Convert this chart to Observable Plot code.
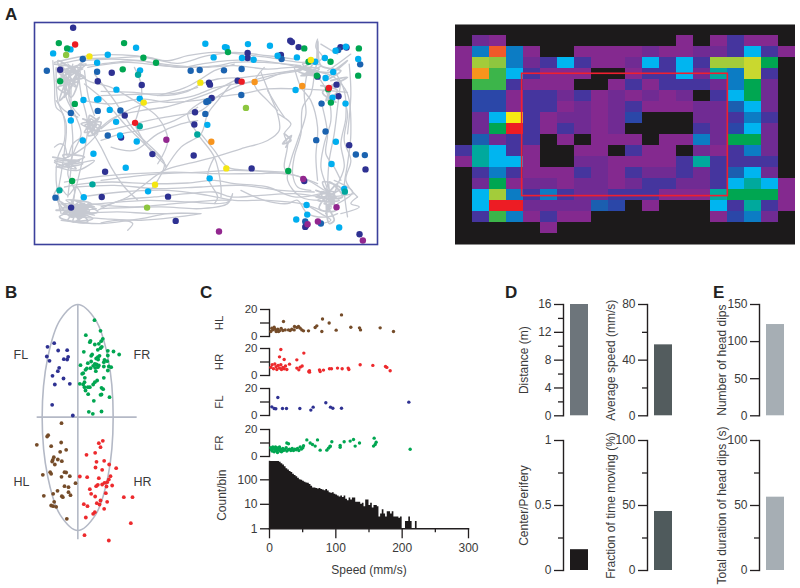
<!DOCTYPE html>
<html><head><meta charset="utf-8">
<script src="https://cdn.jsdelivr.net/npm/d3@7"></script>
<script src="https://cdn.jsdelivr.net/npm/@observablehq/plot@0.6"></script>
<style>
html,body{margin:0;padding:0;background:#fff}
#page{position:relative;width:800px;height:588px;overflow:hidden;font-family:"Liberation Sans",Arial,sans-serif}
#page>div{position:absolute}
.letter{font-weight:bold;font-size:17px;color:#222;line-height:17px}
svg{overflow:visible}
</style></head><body><div id="page"></div>
<script>
// ---------- Panel A: track map, in arena units ----------
const navyDots=[[216,81],[868,120],[873,124],[893,139],[1019,139],[1037,140],[177,207],[332,216],[290,242],[422,253],[624,246],[627,252],[710,240],[840,163],[1007,252],[1013,287],[632,292],[371,345],[582,335],[580,372],[360,411],[454,461],[578,465],[312,514],[302,590],[501,589],[210,622],[524,662],[752,504],[910,542],[1045,434],[1094,507],[913,680],[916,675],[1076,702],[950,228],[740,157],[740,172]];
const blueDots=[[137,210],[245,175],[288,213],[569,210],[596,208],[669,209],[722,205],[721,283],[616,304],[622,301],[290,331],[358,330],[209,337],[320,405],[946,419],[974,393],[962,309],[1065,462],[1092,464],[842,175],[1078,191],[1012,148],[613,340],[163,592],[913,664],[960,670]];
const cyanDots=[[156,158],[208,146],[405,141],[320,162],[288,186],[613,129],[672,139],[677,141],[741,130],[807,135],[638,170],[723,172],[758,177],[830,165],[888,170],[943,183],[972,172],[1004,150],[1035,138],[1072,175],[997,214],[974,232],[884,268],[346,267],[417,209],[416,294],[247,298],[288,297],[292,296],[326,328],[209,360],[345,364],[619,373],[357,405],[245,420],[407,423],[277,460],[374,502],[626,534],[248,591],[441,573],[917,614],[919,643],[886,658],[1015,682],[1034,309],[995,291],[1005,424],[992,491],[1030,566]];
const tealDots=[[411,222],[416,377],[589,402],[274,552],[175,570],[1032,574]];
const greenDots=[[173,127],[198,143],[369,127],[681,154],[910,143],[1074,143],[427,171],[465,186],[365,206],[177,242],[221,310],[923,183],[989,183],[1072,225],[948,225],[982,266],[990,306],[862,512],[213,542]];
const limeDots=[[195,163],[735,322],[438,622]];
const yellowDots=[[265,167],[598,246],[428,306],[676,504],[462,553],[930,178]];
const orangeDots=[[761,244],[904,256],[631,424]];
const redDots=[[222,131],[722,243],[984,262],[402,367]];
const purpleDots=[[496,418],[907,536],[1007,621],[951,664],[920,672],[654,694],[1086,721]];
const dotColors=[[navyDots,"#2e3192"],[blueDots,"#1b63b0"],[cyanDots,"#00aeef"],[tealDots,"#00a79d"],[greenDots,"#00a651"],[limeDots,"#8dc63f"],[yellowDots,"#f4e613"],[orangeDots,"#f7941d"],[redDots,"#ed1c24"],[purpleDots,"#92278f"]];

const smoothTracks=[
[[175,190],[250,175],[340,172],[430,168],[500,180],[560,165],[640,155],[720,160],[800,170],[900,185],[950,180]],
[[240,180],[330,175],[420,180],[470,190],[540,200],[600,190],[680,180],[760,178],[850,190],[920,205]],
[[260,200],[380,185],[480,195],[570,200],[650,195],[700,185],[790,185],[900,195]],
[[920,205],[850,215],[780,240],[700,250],[640,262],[580,285],[500,300],[430,310],[360,340],[300,385]],
[[900,210],[810,225],[740,245],[660,280],[600,330],[520,345],[440,360],[340,385],[280,395]],
[[300,272],[400,275],[480,285],[560,272],[600,250],[650,235],[730,230],[840,215],[910,205]],
[[250,300],[330,310],[420,295],[500,305],[580,300],[640,290],[720,280],[800,265],[900,265],[1040,275]],
[[960,215],[1000,230],[1040,280],[1050,400],[1040,490],[1030,560],[1040,650]],
[[920,210],[910,280],[915,340],[890,420],[870,480],[860,540],[900,590],[960,600]],
[[830,340],[840,345],[870,370],[850,400],[860,430],[850,500],[860,520]],
[[780,215],[810,290],[830,340],[835,390],[800,420],[720,445],[640,470],[560,490],[490,510],[420,560],[380,590],[300,620]],
[[920,210],[960,240],[985,300],[990,360],[970,430],[960,500],[980,570],[985,620]],
[[1020,240],[1010,320],[1000,400],[985,480],[980,560]],
[[1030,300],[1040,340],[1030,420],[1050,480],[1035,540],[1070,590]],
[[960,580],[880,590],[800,560],[700,550],[640,540],[560,548],[450,550],[330,545],[250,550],[190,560]],
[[970,570],[900,530],[800,515],[700,510],[600,515],[490,520],[380,530],[300,540]],
[[1060,580],[980,590],[880,580],[780,585],[690,590],[640,575],[560,580],[460,590],[360,600],[290,630]],
[[230,640],[350,635],[450,640],[600,640],[530,650],[420,660],[300,655],[220,650]],
[[190,620],[300,610],[440,600],[560,605],[680,605],[695,580],[680,610],[600,625],[480,620],[300,625]],
[[720,570],[790,600],[860,610],[890,600],[920,640],[980,650],[1010,640]],
[[250,250],[310,300],[370,370],[430,430],[490,490],[470,540],[440,580]],
[[400,370],[440,440],[495,495]],
[[610,300],[560,340],[590,400],[640,470],[660,560],[660,590]],
[[690,250],[650,300],[620,340],[600,400],[540,440],[490,510]],
[[600,400],[640,450],[680,500],[760,510],[850,515]],
[[400,200],[420,250],[420,300],[400,370]],
[[165,200],[170,300],[195,370],[190,450],[180,520],[170,590],[180,640]],
[[230,200],[240,280],[260,370],[250,450],[230,540],[210,620]],
[[210,250],[210,340],[215,420],[210,500],[200,590]],
[[270,390],[300,440],[330,500],[370,560],[410,600]],
[[290,400],[250,440],[200,470],[160,480],[220,490],[280,480],[230,510],[170,500]],
[[230,350],[190,330],[165,300]],
[[380,690],[395,670],[360,660],[300,668]],
[[155,180],[160,250],[165,320],[185,340],[190,420],[170,470],[165,540],[175,600]],
[[185,200],[195,290],[225,350],[240,400],[220,450],[200,520],[220,570],[215,610]],
[[250,210],[262,290],[280,345]],
[[215,190],[205,300],[235,345]],
[[160,440],[175,430],[190,435],[200,470],[215,430],[245,410]],
[[155,590],[175,560],[200,585],[225,560],[245,595]],
[[200,190],[260,240],[330,260],[400,300],[470,350],[500,420],[470,490]],
[[280,220],[340,300],[400,390],[480,470],[495,500]],
[[290,390],[340,350],[420,330],[490,320],[560,300],[630,275],[700,240]],
[[300,420],[360,400],[440,385],[520,360],[590,320]],
[[330,440],[400,450],[470,400],[540,370],[590,360]],
[[160,185],[260,165],[400,165],[470,178],[530,188],[620,165],[700,155],[800,165],[880,175]],
[[240,195],[300,190],[400,180],[500,192],[600,200],[700,195],[800,205],[880,200],[940,210]],
[[470,285],[550,262],[600,235],[640,210],[700,190]],
[[300,285],[380,282],[440,280],[520,278],[590,260]],
[[800,270],[830,320],[850,350]],
[[790,200],[760,250],[800,300],[830,330]],
[[190,545],[280,530],[400,520],[520,515],[640,520],[760,520],[860,520],[950,550]],
[[220,560],[340,555],[470,565],[600,560],[720,555],[840,570],[940,575]],
[[240,590],[360,575],[500,570],[620,585],[700,600],[800,600],[900,610],[960,630]],
[[260,610],[400,620],[520,610],[640,600],[690,600]],
[[180,660],[300,670],[420,655],[500,640],[600,640]],
[[640,470],[620,530],[650,590],[640,610]],
[[880,200],[900,260],[930,300],[950,380],[945,470],[950,540]],
[[940,220],[930,280],[905,320],[900,400],[880,470],[875,520],[890,560],[930,570]],
[[1000,210],[1030,270],[1035,350],[1020,430],[1030,500],[1005,560]],
[[1045,190],[1050,280],[1040,400]],
[[960,300],[980,400],[975,460],[1000,500],[1020,540]],
[[1010,160],[960,130]],
[[950,115],[945,140],[965,170],[940,190]],
[[1050,160],[1010,190],[980,210]],
[[1070,590],[1050,610],[1075,620],[1020,640]],
[[910,610],[960,640],[990,660],[960,670]],
[[1000,540],[1055,575],[1010,610]]
];
const blobTopLeft=[[160,190],[245,205],[170,215],[255,190],[190,240],[240,225],[165,205],[225,260],[180,195],[210,290],[235,210],[165,240],[250,230],[195,210],[205,280],[170,260],[232,240],[215,200],[190,290],[240,195],[205,245],[170,180],[225,225],[175,300],[210,215],[250,180]];
const blobLeft=[[245,355],[300,380],[250,395],[295,350],[260,405],[290,395],[240,370],[285,360],[265,345],[275,400],[300,365],[250,375],[280,385],[255,360],[295,390],[265,385],[270,355],[285,375],[255,385],[275,365]];
const blobBottomLeft=[[165,630],[285,625],[180,610],[280,645],[195,600],[270,610],[175,650],[260,665],[210,600],[290,635],[185,640],[250,610],[200,660],[275,655],[190,620],[265,630],[215,665],[240,600],[205,640],[255,650],[175,625],[280,620],[225,615],[235,660],[215,625],[260,640],[200,630],[245,625],[230,645],[220,635],[170,600],[210,650],[240,635],[265,620],[225,650],[250,640]];
const blobBottomRight=[[945,570],[1015,600],[950,600],[1020,565],[965,545],[1005,630],[955,625],[1010,550],[975,640],[1000,575],[945,590],[1025,590],[985,545],[990,625],[960,575],[1005,590],[970,610],[1000,610],[975,565],[990,600],[965,590],[1000,660],[985,670],[980,585],[1000,600],[985,615]];
const blobTopRight=[[885,195],[950,215],[900,225],[960,195],[905,190],[945,225],[890,210],[935,190],[915,220],[955,205],[925,200],[895,200],[940,210],[950,120],[960,195],[1020,210],[970,240],[1040,180],[985,215],[915,205],[930,215]];
const blobRightMid=[[960,255],[1010,270],[975,300],[1000,250],[985,285],[1005,305],[965,275],[1040,230],[990,240]];
const blobLeftMid=[[155,470],[245,490],[165,500],[250,470],[185,465],[225,505],[160,485],[235,480],[195,495]];
const blobMid=[[850,400],[870,420],[845,430],[872,405],[855,440]];
const scribbles=[blobTopLeft,blobLeft,blobBottomLeft,blobBottomRight,blobTopRight,blobRightMid,blobLeftMid,blobMid];

// ---------- Panel A: occupancy map ----------
const heatRows=[
"kkkkkkkkkkkkkkkkkkkk",
"kPpkkkkkkkkkkpkpnppk",
"pbObpkkppppPppPPncnp",
"plLbPncnppPcncnllYgk",
"poGcnpppkkpnncPtbYnk",
"kGGnpppkkpnpnnnPbgPk",
"kNNpnnPnpPpPpPkncgPk",
"kNNpnnpPpPnpppPPBcPk",
"kPcynpPPpPNkkkPPnbnk",
"kPgrnpnPpPkkkknPNcPk",
"kBPnnkpkpppkppbPggPk",
"ntcnpkkppknppkPpnbPk",
"ptccpkkPPppppntnnnnk",
"knbnpppnPpnPPnPnBcPk",
"kPgpPPpPPpPnnPPnctcp",
"kclbnbnPPnnnppptgggp",
"kcrrPPPPBNkpkkkcntnp",
"knGbpnppkkkkkkkpNbPk",
"kkkkkpkkkkkkkkkkkkkk",
"kkkkkkkkkkkkkkkkkkkk"];
const heatColors={k:"#1c1a1b",p:"#84298f",P:"#702b93",n:"#45359e",N:"#2b47a8",B:"#1b5fb0",b:"#0c7cc4",c:"#00b5f0",t:"#00a99d",g:"#00a651",G:"#3cb54a",L:"#8dc63f",l:"#a3cc3a",y:"#f6ea13",Y:"#c9d82f",o:"#f7941d",O:"#f15a29",r:"#ed1c24"};
const centerZone={x1:3.92,x2:16.02,y1:4.48,y2:15.6};
const heatEdges=[0,20];

// ---------- Panel B: paw positions ----------
const bodyOutline=[[232,72],[285,118],[322,230],[338,410],[322,590],[285,703],[232,750],[179,703],[142,590],[125,410],[142,230],[179,118]];
const flPaw=[[161,188],[141,199],[173,210],[200,209],[139,228],[147,241],[190,236],[203,229],[200,237],[176,262],[172,272],[156,286],[189,294],[163,312],[208,310],[155,373],[217,405]];
const frPaw=[[282,119],[300,151],[256,164],[270,181],[268,185],[307,175],[302,182],[295,190],[283,192],[304,199],[300,203],[292,208],[250,214],[275,222],[272,226],[322,211],[339,213],[356,222],[297,226],[292,230],[287,234],[312,238],[320,242],[310,245],[322,225],[240,254],[262,248],[272,243],[283,250],[288,252],[278,256],[292,260],[284,262],[270,263],[259,264],[255,268],[248,278],[245,280],[310,258],[325,258],[332,260],[322,270],[286,272],[253,292],[252,305],[238,310],[248,312],[290,300],[283,305],[278,312],[310,292],[262,320],[255,330],[303,322],[308,326],[263,341],[280,361],[300,343],[303,342],[327,350],[265,394],[277,400],[303,393],[252,320],[268,320],[293,237],[295,255]];
const hlPaw=[[183,428],[143,464],[140,468],[109,493],[152,497],[182,486],[197,508],[179,514],[160,530],[157,538],[172,537],[184,542],[155,543],[163,552],[149,575],[152,580],[127,583],[192,575],[197,576],[183,589],[208,587],[225,608],[192,617],[204,620],[171,631],[204,635],[130,646],[158,640],[184,647],[187,650],[210,644],[161,664],[152,675],[158,677],[167,679],[199,715]];
const hrPaw=[[307,481],[295,488],[300,500],[258,523],[284,517],[288,544],[311,541],[326,552],[285,561],[305,568],[347,563],[330,587],[325,597],[238,588],[260,590],[295,593],[320,605],[312,607],[305,612],[292,613],[287,617],[335,615],[318,618],[268,626],[316,638],[272,640],[284,648],[370,650],[396,650],[300,660],[320,664],[289,668],[297,672],[250,671],[261,677],[311,685],[283,695],[278,700],[256,711],[391,728],[252,764],[325,780]];
const pawLabels=[["FL",61,222],["FR",424,222],["HL",63,605],["HR",426,605]];

// ---------- Panel C: [speed, value] ----------
const hlSpeed=[[21,11.1],[2,3.7],[5,5],[7,6.9],[10,3.7],[12.5,5.4],[15,4.2],[17.5,6],[20,4.4],[23.5,4.9],[28.5,4.9],[33.5,5.4],[37,4.9],[37.5,7.4],[43.5,7.4],[46,6.2],[48.5,4.9],[51,4.2],[58.5,4.2],[68.5,6.7],[71,7.9],[78.5,3.7],[79.5,13],[89.5,10],[100,4.7],[108,16],[122,6.9],[135,6.4],[136.5,4.9],[166,6.4],[186,3.7],[3.5,6.2],[8.5,5.4],[13.5,3.7],[31,4.4],[41,6.7]];
const hrSpeed=[[17,19.3],[15,13.8],[22,11.9],[41,11.6],[51.5,16.6],[30,8.4],[2,6],[4,8],[6,5],[8,8.5],[10,6.5],[11,4.5],[13,7.5],[15,5.5],[17,8],[18,4.5],[20,6],[22,5],[24,7],[26,4.5],[41,5.5],[44,4.2],[46,6.2],[49,7],[59,3],[60,2.5],[60,3.5],[75,4.2],[76,3],[81,4],[90,5],[93,5],[102,5.5],[109,5],[118,5.5],[119,4.5],[136,8],[155,7.5],[174,6.7],[176,6],[181,3.5]];
const flSpeed=[[12.5,13.3],[3.5,6.4],[7,5.2],[9.5,5],[19.5,5.2],[25.5,5.2],[45.5,5.2],[62,4],[65.5,6.2],[84.5,9.4],[91.5,6.2],[95,5.4],[108,5.4],[209,9.9]];
const frSpeed=[[26,10],[28.5,9.4],[56,12.3],[61,10],[64.5,8.9],[68.5,7.7],[72,12.3],[93.5,10.9],[112,10.9],[121,11.4],[126,12.6],[135,10],[128.5,7.7],[157,13.6],[160,10.6],[158.5,8.9],[156,7.7],[91,7.7],[106,8.1],[106,6.9],[76,4.7],[86,4.7],[88.5,6.2],[91,7.4],[211,5.4],[2,6.5],[3,5],[4,4],[5,7],[6,6],[7,3.5],[8,5.5],[9,7],[10,4.5],[11,6.5],[12,3],[13,5],[14,6],[15,7],[16,4],[17,5.5],[18,3.5],[20,6],[21,4.5],[23,5],[25,6.5],[26,4],[28,5],[30,5.5],[32,4.5],[34,6],[36,4.5],[38,5.5],[40,5],[42,6],[44,4.5],[46,7],[48,5.5],[50,6.5],[51,8]];
const speedBinWidth=2.5;
const speedCounts=[560,560,560,560,560,560,520,450,400,340,280,250,220,200,170,150,135,115,100,95,88,80,75,72,65,55,46,46,44,42,44,40,38,36,40,35,30,28,30,26,24,22,20,22,19,22,16,14,18,15,18,18,12,12,12,10,11,8,15,15,9,11,7,9,9,8,3,4,6,4,3,5,5,4,5,3,3,3,2.7,3,1,1,2,2,3,2,1,1,2,1,1];

// ---------- Panels D, E ----------
const distance=16, averageSpeed=51, centerPeriphery=0.16, fractionMoving=45.4, headDipCount=123, headDipDuration=56.4;

// ---------- helpers ----------
const page=document.getElementById("page");
const font="12px 'Liberation Sans', Arial, sans-serif";
const ink="#231f20", textInk="#3a3a3a";
function place(svg,left,top){const d=document.createElement("div");d.style.left=left+"px";d.style.top=top+"px";d.appendChild(svg);page.appendChild(d);}
const pts=a=>a.map(([x,y])=>({x,y}));

// A left
{
 const trackRows=smoothTracks.flatMap((t,i)=>t.map(([x,y])=>({x,y,id:i})));
 const scribRows=scribbles.flatMap((t,i)=>t.map(([x,y])=>({x,y,id:i})));
 place(Plot.plot({width:343,height:222,margin:0,style:{font,background:"transparent"},
  x:{domain:[100,1130],axis:null},y:{domain:[733,65],axis:null},
  marks:[
   Plot.line(trackRows,{x:"x",y:"y",z:"id",stroke:"#c6c9d1",strokeWidth:1.3,curve:"catmull-rom"}),
   Plot.line(scribRows,{x:"x",y:"y",z:"id",stroke:"#c6c9d1",strokeWidth:1.8,curve:"catmull-rom"}),
   ...dotColors.map(([a,c])=>Plot.dot(pts(a),{x:"x",y:"y",r:3.2,fill:c})),
   Plot.frame({stroke:"#3b409c",strokeWidth:1.6})
  ]}),34,22);
}
// A right
{
 const cells=heatRows.flatMap((row,r)=>[...row].map((ch,c)=>({c,r,color:heatColors[ch]})));
 place(Plot.plot({width:340,height:220,margin:0,style:{font,background:"transparent"},
  x:{domain:[0,20],axis:null},y:{domain:[20,0],axis:null},
  marks:[
   Plot.rect(cells,{x1:"c",x2:d=>d.c+1,y1:"r",y2:d=>d.r+1,fill:"color"}),
   Plot.ruleY(heatEdges,{stroke:"#8a8a8a",strokeWidth:1}),
   Plot.rect([centerZone],{x1:"x1",x2:"x2",y1:"y1",y2:"y2",stroke:"#f0202f",strokeWidth:1.6,fill:"none"})
  ]}),455,24);
}
// B
{
 const guide="#b4b9c6";
 place(Plot.plot({width:180,height:280,margin:0,style:{font,background:"transparent"},
  x:{domain:[0,540],axis:null},y:{domain:[840,0],axis:null},
  marks:[
   Plot.line(pts(bodyOutline),{x:"x",y:"y",stroke:guide,strokeWidth:1.6,curve:"catmull-rom-closed"}),
   Plot.ruleX([232],{y1:72,y2:778,stroke:guide,strokeWidth:1.6}),
   Plot.ruleY([410],{x1:110,x2:410,stroke:guide,strokeWidth:1.6}),
   Plot.dot(pts(flPaw),{x:"x",y:"y",r:1.9,fill:"#2e3192"}),
   Plot.dot(pts(frPaw),{x:"x",y:"y",r:1.9,fill:"#00a651"}),
   Plot.dot(pts(hlPaw),{x:"x",y:"y",r:1.9,fill:"#754c29"}),
   Plot.dot(pts(hrPaw),{x:"x",y:"y",r:1.9,fill:"#ed2a2d"}),
   Plot.text(pawLabels,{x:d=>d[1],y:d=>d[2],text:d=>d[0],fill:textInk,fontSize:12.5})
  ]}),0,280);
}
// C scatter rows
const cAxisX=269.3, cLeft=70;
function speedRow(data,color,label,top){
 place(Plot.plot({width:cLeft+200,height:47,marginLeft:cLeft,marginRight:0,marginTop:10,marginBottom:10,style:{font,background:"transparent",color:ink},
  x:{domain:[0,300],axis:null},y:{domain:[0,20],axis:null},
  marks:[
   Plot.frame({anchor:"left",stroke:ink,strokeWidth:1.4}),
   Plot.axisY([0,10,20],{tickSize:9,tickPadding:3,strokeWidth:1.3,stroke:ink,fill:textInk,fontSize:11.5,tickFormat:d=>(d===10?"":String(d)),label,labelAnchor:"center",labelArrow:"none",labelOffset:54.6}),
   Plot.dot(pts(data),{x:"x",y:"y",r:1.7,fill:color})
  ]}),cAxisX-cLeft,top-10);
}
speedRow(hlSpeed,"#754c29","HL",309);
speedRow(hrSpeed,"#ed2a2d","HR",348);
speedRow(flSpeed,"#2e3192","FL",388.3);
speedRow(frSpeed,"#00a651","FR",429);
// C histogram
{
 const rows=speedCounts.map((n,i)=>({s:i*speedBinWidth,n}));
 place(Plot.plot({width:cLeft+200,height:67.3+50,marginLeft:cLeft,marginRight:1,marginTop:0,marginBottom:50,style:{font,background:"transparent",color:ink},
  x:{domain:[0,300],axis:null},y:{type:"log",domain:[1,560],axis:null},
  marks:[
   Plot.areaY(rows,{x:"s",y1:()=>1,y2:"n",fill:"#1d1a1b",curve:"step-after"}),
   Plot.frame({anchor:"left",stroke:ink,strokeWidth:1.4}),
   Plot.frame({anchor:"bottom",stroke:ink,strokeWidth:1.4}),
   Plot.axisY([1,10,100],{tickSize:9,tickPadding:3,strokeWidth:1.3,stroke:ink,fill:textInk,tickFormat:d=>String(d),label:"Count/bin",labelAnchor:"center",labelArrow:"none",labelOffset:52.5}),
   Plot.axisX([0,100,200,300],{anchor:"bottom",tickSize:10,tickPadding:5,strokeWidth:1.3,stroke:ink,fill:textInk,tickFormat:d=>String(d),label:"Speed (mm/s)",labelAnchor:"center",labelArrow:"none",labelOffset:45}),
   Plot.axisX([50,150,250],{anchor:"bottom",tickSize:4,strokeWidth:1.3,stroke:ink,tickFormat:()=>"",label:null})
  ]}),cAxisX-cLeft,460.7);
}
// D / E bars
function barPanel({axisX,top,h,value,max,major,minor,label,labelX,fill,fmt}){
 const L=70;
 place(Plot.plot({width:L+35,height:h+20,marginLeft:L,marginRight:0,marginTop:10,marginBottom:10,style:{font,background:"transparent",color:ink},
  x:{type:"band",domain:[label],range:[L+5,L+27.5],axis:null},y:{domain:[0,max],axis:null},
  marks:[
   Plot.barY([value],{x:()=>label,y:d=>d,fill}),
   Plot.frame({anchor:"left",stroke:ink,strokeWidth:1.4}),
   Plot.axisY(major,{tickSize:9,tickPadding:3,strokeWidth:1.3,stroke:ink,fill:textInk,tickFormat:fmt||(d=>String(d)),label,labelAnchor:"center",labelArrow:"none",labelOffset:axisX-labelX+6}),
   Plot.axisY(minor,{tickSize:5,strokeWidth:1.3,stroke:ink,tickFormat:()=>"",label:null})
  ]}),axisX-L,top-10);
}
barPanel({axisX:562.7,top:304,h:111.3,value:distance,max:16,major:[0,4,8,12,16],minor:[2,6,10,14],label:"Distance (m)",labelX:524.3,fill:"#6d757b"});
barPanel({axisX:647.3,top:304,h:111.3,value:averageSpeed,max:80,major:[0,40,80],minor:[20,60],label:"Average speed (mm/s)",labelX:612.3,fill:"#535c5e"});
barPanel({axisX:562.7,top:440.3,h:130,value:centerPeriphery,max:1,major:[0,0.5,1],minor:[0.25,0.75],label:"Center/Perifery",labelX:524.3,fill:"#1d1a1b"});
barPanel({axisX:647.3,top:440.3,h:130,value:fractionMoving,max:100,major:[0,50,100],minor:[25,75],label:"Fraction of time moving (%)",labelX:612.3,fill:"#4f5a5c"});
barPanel({axisX:758.7,top:304,h:111.3,value:headDipCount,max:150,major:[0,50,100,150],minor:[],label:"Number of head dips",labelX:722.7,fill:"#a6aeb4"});
barPanel({axisX:758.7,top:440.3,h:130,value:headDipDuration,max:100,major:[0,50,100],minor:[25,75],label:"Total duration of head dips (s)",labelX:722.7,fill:"#a6aeb4"});

// Panel letters
[["A",5,6],["B",5,284],["C",200,284],["D",505,284],["E",713,284]].forEach(([t,x,y])=>{
 const d=document.createElement("div");d.className="letter";d.textContent=t;d.style.left=x+"px";d.style.top=y+"px";page.appendChild(d);
});
</script></body></html>
